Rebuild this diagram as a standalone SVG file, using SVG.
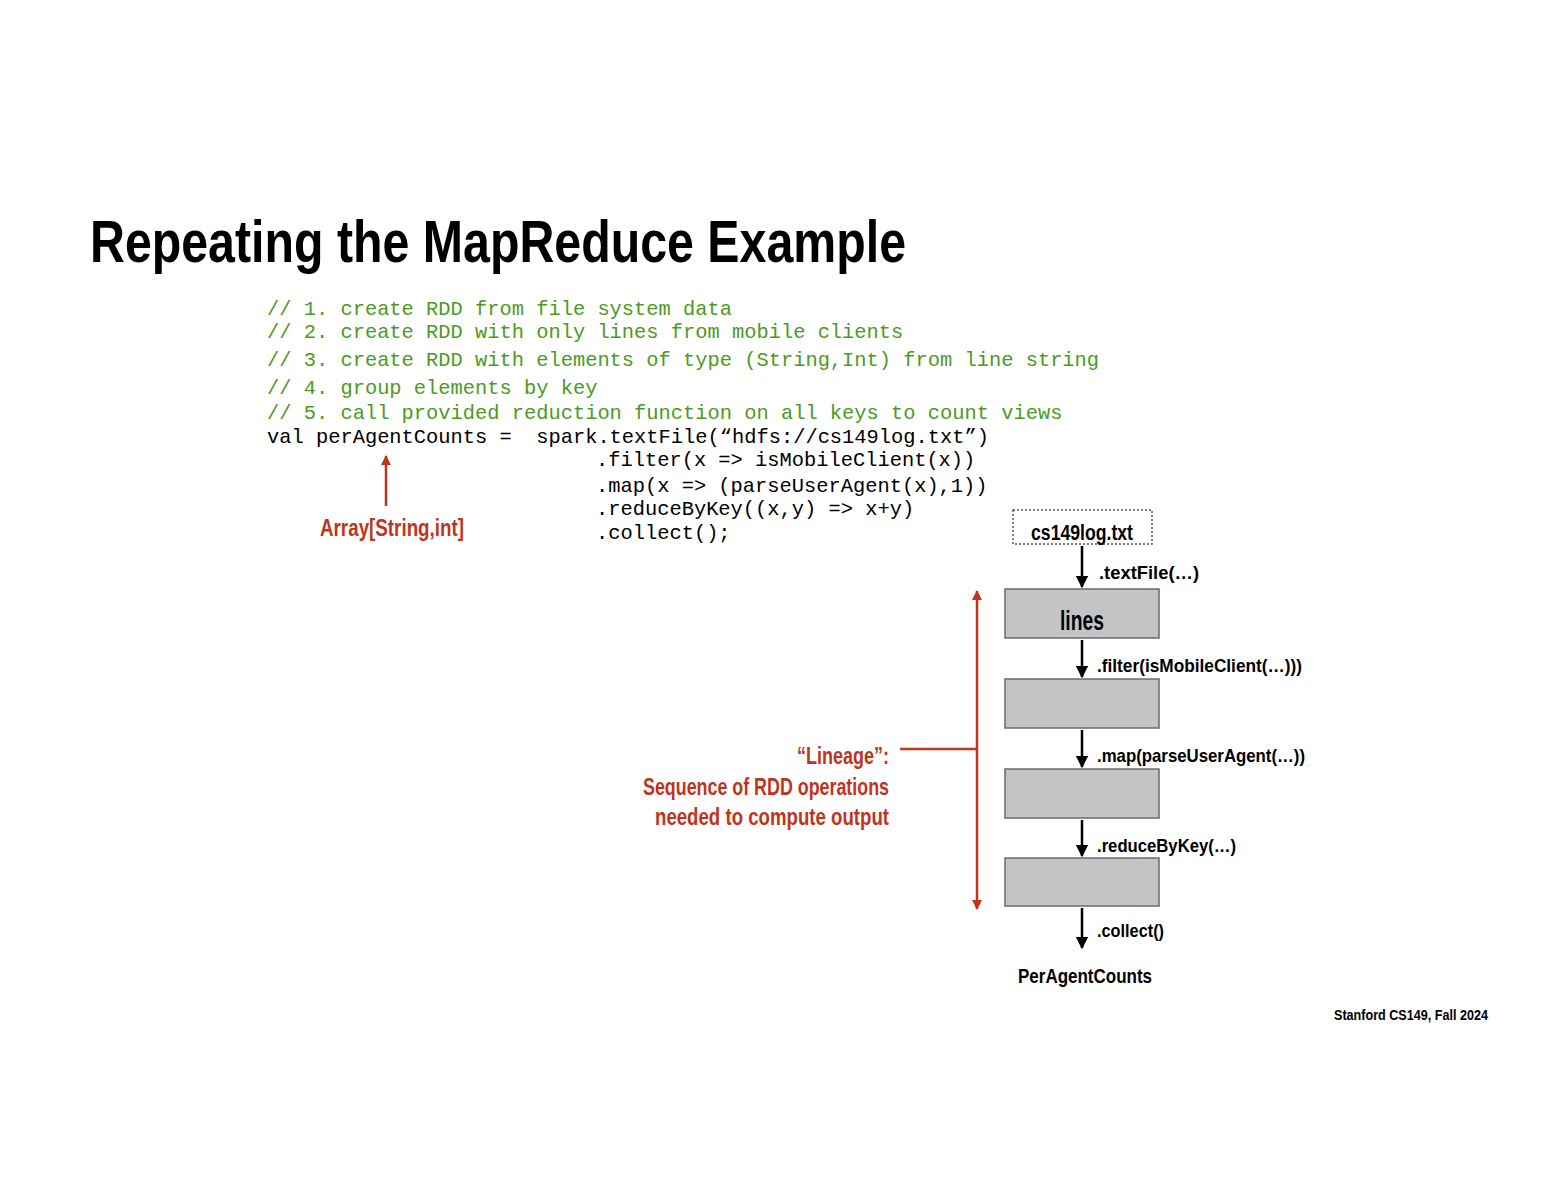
<svg xmlns="http://www.w3.org/2000/svg" width="1553" height="1200" viewBox="0 0 1553 1200">
<style>
.title{font-family:"Liberation Sans Narrow","Liberation Sans",Arial,sans-serif;font-weight:bold;font-size:60px;fill:#000}
.code{font-family:"Liberation Mono","DejaVu Sans Mono",monospace;font-size:20.4px;fill:#000}
.cmt{fill:#4b9b22}
.lbl{font-family:"Liberation Sans Narrow","Liberation Sans",Arial,sans-serif;font-weight:bold;fill:#000}
.red{fill:#c0341d}
.box{fill:#c4c4c6;stroke:#6a6a6a;stroke-width:1.5}
.blk{stroke:#000;stroke-width:2.5;fill:none}
.rl{stroke:#c0341d;stroke-width:2.5;fill:none}
</style>
<defs>
<marker id="ab" viewBox="0 0 10 10" refX="9" refY="5" markerWidth="5" markerHeight="5" orient="auto"><path d="M0,0L10,5L0,10z" fill="#000"/></marker>
<marker id="ar" viewBox="0 0 10 10" refX="9" refY="5" markerWidth="4" markerHeight="4" orient="auto-start-reverse"><path d="M0,0L10,5L0,10z" fill="#c0341d"/></marker>
</defs>
<rect width="1553" height="1200" fill="#fff"/>
<text class="title" x="90" y="262" textLength="816" lengthAdjust="spacingAndGlyphs">Repeating the MapReduce Example</text>
<g id="code">
<text class="code cmt" x="267" y="315" xml:space="preserve">// 1. create RDD from file system data</text>
<text class="code cmt" x="267" y="338" xml:space="preserve">// 2. create RDD with only lines from mobile clients</text>
<text class="code cmt" x="267" y="366" xml:space="preserve">// 3. create RDD with elements of type (String,Int) from line string</text>
<text class="code cmt" x="267" y="394" xml:space="preserve">// 4. group elements by key</text>
<text class="code cmt" x="267" y="419" xml:space="preserve">// 5. call provided reduction function on all keys to count views</text>
<text class="code" x="267" y="443" xml:space="preserve">val perAgentCounts =  spark.textFile(“hdfs://cs149log.txt”)</text>
<text class="code" x="596" y="466" xml:space="preserve">.filter(x =&gt; isMobileClient(x))</text>
<text class="code" x="596" y="492" xml:space="preserve">.map(x =&gt; (parseUserAgent(x),1))</text>
<text class="code" x="596" y="515" xml:space="preserve">.reduceByKey((x,y) =&gt; x+y)</text>
<text class="code" x="596" y="539" xml:space="preserve">.collect();</text>
</g>
<g id="array-label">
<text class="lbl red" x="392" y="536" font-size="23" text-anchor="middle" textLength="144" lengthAdjust="spacingAndGlyphs">Array[String,int]</text>
</g>
<g id="file">
<rect x="1013" y="510" width="139" height="34" fill="none" stroke="#555" stroke-width="1.5" stroke-dasharray="2,2"/>
<text class="lbl" x="1082" y="540" font-size="22" text-anchor="middle" textLength="102" lengthAdjust="spacingAndGlyphs">cs149log.txt</text>
</g>
<g id="lines">
<rect class="box" x="1005" y="589" width="154" height="49"/>
<text class="lbl" x="1082" y="630" font-size="27" text-anchor="middle" textLength="44" lengthAdjust="spacingAndGlyphs">lines</text>
</g>
<g id="rdd2"><rect class="box" x="1005" y="679" width="154" height="49"/></g>
<g id="rdd3"><rect class="box" x="1005" y="769" width="154" height="49"/></g>
<g id="rdd4"><rect class="box" x="1005" y="858" width="154" height="48"/></g>
<g id="output">
<text class="lbl" x="1085" y="983" font-size="21" text-anchor="middle" textLength="134" lengthAdjust="spacingAndGlyphs">PerAgentCounts</text>
</g>
<g id="lineage-label">
<text class="lbl red" x="889" y="764" font-size="24" text-anchor="end" textLength="92" lengthAdjust="spacingAndGlyphs">“Lineage”:</text>
<text class="lbl red" x="889" y="795" font-size="24" text-anchor="end" textLength="246" lengthAdjust="spacingAndGlyphs">Sequence of RDD operations</text>
<text class="lbl red" x="889" y="825" font-size="24" text-anchor="end" textLength="234" lengthAdjust="spacingAndGlyphs">needed to compute output</text>
</g>
<g id="connectors">
<line class="blk" x1="1082" y1="546" x2="1082" y2="587" marker-end="url(#ab)"/>
<line class="blk" x1="1082" y1="640" x2="1082" y2="677" marker-end="url(#ab)"/>
<line class="blk" x1="1082" y1="730" x2="1082" y2="767" marker-end="url(#ab)"/>
<line class="blk" x1="1082" y1="820" x2="1082" y2="856" marker-end="url(#ab)"/>
<line class="blk" x1="1082" y1="908" x2="1082" y2="948" marker-end="url(#ab)"/>
<line class="rl" x1="386" y1="506" x2="386" y2="456" marker-end="url(#ar)"/>
<line class="rl" x1="977" y1="591" x2="977" y2="909" marker-start="url(#ar)" marker-end="url(#ar)"/>
<line class="rl" x1="900" y1="749" x2="977" y2="749"/>
</g>
<g id="edge-labels">
<text class="lbl" x="1099" y="579" font-size="19" textLength="100" lengthAdjust="spacingAndGlyphs">.textFile(…)</text>
<text class="lbl" x="1097" y="672" font-size="19" textLength="205" lengthAdjust="spacingAndGlyphs">.filter(isMobileClient(…)))</text>
<text class="lbl" x="1097" y="762" font-size="19" textLength="208" lengthAdjust="spacingAndGlyphs">.map(parseUserAgent(…))</text>
<text class="lbl" x="1097" y="852" font-size="19" textLength="139" lengthAdjust="spacingAndGlyphs">.reduceByKey(…)</text>
<text class="lbl" x="1097" y="937" font-size="19" textLength="67" lengthAdjust="spacingAndGlyphs">.collect()</text>
</g>
<text class="lbl" x="1488" y="1020" font-size="15" text-anchor="end" textLength="154" lengthAdjust="spacingAndGlyphs">Stanford CS149, Fall 2024</text>
</svg>
